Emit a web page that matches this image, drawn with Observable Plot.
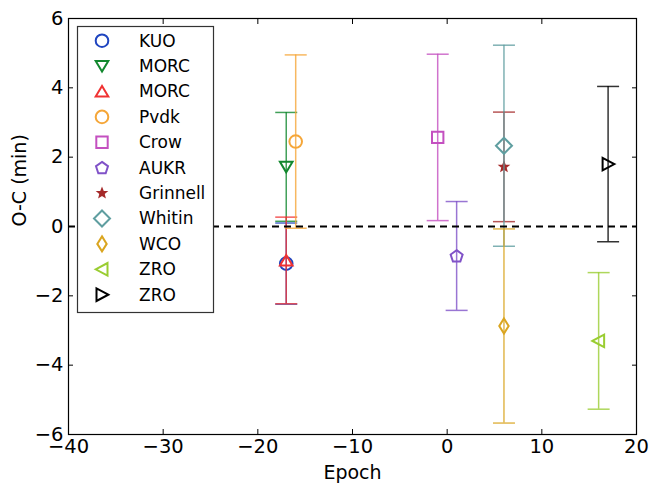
<!DOCTYPE html>
<html>
<head>
<meta charset="utf-8">
<script src="https://cdn.jsdelivr.net/npm/d3@7"></script>
<script src="https://cdn.jsdelivr.net/npm/@observablehq/plot@0.6"></script>
<style>
  html, body { margin: 0; padding: 0; background: white; }
</style>
</head>
<body>
<div id="chart"></div>
<script>
// ---- data ----
const names  = ["KUO", "MORC", "MORC", "Pvdk", "Crow", "AUKR", "Grinnell", "Whitin", "WCO", "ZRO", "ZRO"];
const epochs = [-17, -17, -17, -16, -1, 1, 6, 6, 6, 16, 17];
const values = [-1.07, 1.72, -0.98, 2.45, 2.57, -0.85, 1.72, 2.33, -2.87, -3.30, 1.80];
const errors = [1.17, 1.57, 1.25, 2.50, 2.40, 1.57, 1.58, 2.90, 2.80, 1.97, 2.24];
const colors = ["#1f45c0", "#12882e", "#f03232", "#f5a638", "#c450c0", "#8052c8", "#a52a2a", "#5f9ea0", "#daa520", "#9acd32", "#000000"];
const markers = ["circle", "tridown", "triup", "circle", "square", "pentagon", "star", "diamond", "thindiamond", "trileft", "triright"];
const xTicks = [-40, -30, -20, -10, 0, 10, 20];
const yTicks = [-6, -4, -2, 0, 2, 4, 6];

// ---- symbols ----
function poly(pts) {
  return { draw(ctx) { ctx.moveTo(pts[0][0], pts[0][1]); for (let i = 1; i < pts.length; i++) ctx.lineTo(pts[i][0], pts[i][1]); ctx.closePath(); } };
}
function circ(r) { return { draw(ctx) { ctx.moveTo(r, 0); ctx.arc(0, 0, r, 0, 2 * Math.PI); } }; }
function starPts(ro, ri) {
  const p = [];
  for (let k = 0; k < 10; k++) { const a = -Math.PI / 2 + k * Math.PI / 5; const r = k % 2 ? ri : ro; p.push([r * Math.cos(a), r * Math.sin(a)]); }
  return p;
}
function pentPts(r) {
  const p = [];
  for (let k = 0; k < 5; k++) { const a = -Math.PI / 2 + k * 2 * Math.PI / 5; p.push([r * Math.cos(a), r * Math.sin(a) + 0.5]); }
  return p;
}
const symbolTypes = {
  circle: circ(6.3),
  tridown: poly([[0, 5.5], [-6.3, -5], [6.3, -5]]),
  triup: poly([[0, -5.5], [-6.3, 5], [6.3, 5]]),
  trileft: poly([[-6.3, 0], [5.5, -6.3], [5.5, 6.3]]),
  triright: poly([[6.3, 0], [-5.5, -6.3], [-5.5, 6.3]]),
  square: poly([[-5.7, -5.7], [5.7, -5.7], [5.7, 5.7], [-5.7, 5.7]]),
  pentagon: poly(pentPts(6.3)),
  star: poly(starPts(4.6, 2.0)),
  diamond: poly([[0, -8], [8, 0], [0, 8], [-8, 0]]),
  thindiamond: poly([[0, -7.5], [4.7, 0], [0, 7.5], [-4.7, 0]])
};
const capSymbol = { draw(ctx) { ctx.moveTo(-11, 0); ctx.lineTo(11, 0); } };

const minus = d => d < 0 ? "\u2212" + (-d) : String(d);

// ---- marks ----
const marks = [];
names.forEach((n, i) => {
  const d = [{ x: epochs[i], y: values[i], lo: values[i] - errors[i], hi: values[i] + errors[i] }];
  marks.push(Plot.ruleX(d, { x: "x", y1: "lo", y2: "hi", stroke: colors[i], strokeWidth: 1.5, strokeOpacity: 0.8 }));
  marks.push(Plot.dot(d, { x: "x", y: "lo", symbol: capSymbol, stroke: colors[i], strokeWidth: 1.5, strokeOpacity: 0.8 }));
  marks.push(Plot.dot(d, { x: "x", y: "hi", symbol: capSymbol, stroke: colors[i], strokeWidth: 1.5, strokeOpacity: 0.8 }));
  const filled = markers[i] === "star";
  marks.push(Plot.dot(d, { x: "x", y: "y", symbol: symbolTypes[markers[i]], stroke: colors[i], fill: filled ? colors[i] : "none", strokeWidth: filled ? 1.5 : 2 }));
});

const chart = Plot.plot({
  width: 652,
  height: 487,
  marginLeft: 68,
  marginRight: 16,
  marginTop: 18,
  marginBottom: 53,
  style: { fontFamily: "DejaVu Sans, sans-serif", fontSize: "19.5px", background: "white", color: "black", overflow: "visible" },
  x: { domain: [-40, 20] },
  y: { domain: [-6, 6] },
  marks: [
    ...marks,
    Plot.ruleY([0], { stroke: "black", strokeWidth: 2, strokeDasharray: "7,5" }),
    Plot.frame({ stroke: "black", strokeWidth: 1.2 }),
    Plot.axisX({ ticks: xTicks, tickSize: -5, tickPadding: 10, tickFormat: minus, label: null, fontSize: 19.5 }),
    Plot.axisX({ anchor: "top", ticks: xTicks, tickSize: -5, tickFormat: () => "", label: null }),
    Plot.axisY({ ticks: yTicks, tickSize: -5, tickPadding: 10, tickFormat: minus, label: null, fontSize: 19.5 }),
    Plot.axisY({ anchor: "right", ticks: yTicks, tickSize: -5, tickFormat: () => "", label: null }),
    Plot.text(["Epoch"], { frameAnchor: "bottom", dy: 44, fontSize: 19 }),
    Plot.text(["O-C (min)"], { frameAnchor: "left", dx: -49, rotate: -90, fontSize: 19 })
  ]
});

// ---- legend ----
const svg = d3.select(chart);
const lg = svg.append("g").attr("font-family", "DejaVu Sans, sans-serif").attr("font-size", 17).attr("text-anchor", "start");
lg.append("rect").attr("x", 77.5).attr("y", 26.5).attr("width", 136).attr("height", 286)
  .attr("fill", "white").attr("stroke", "#333").attr("stroke-width", 1.2);
names.forEach((n, i) => {
  const cy = 40.7 + 25.4 * i;
  const filled = markers[i] === "star";
  lg.append("path").attr("d", d3.symbol(symbolTypes[markers[i]])())
    .attr("transform", `translate(102,${cy})`)
    .attr("fill", filled ? colors[i] : "none")
    .attr("stroke", colors[i]).attr("stroke-width", filled ? 1.5 : 2);
  lg.append("text").attr("x", 139).attr("y", cy).attr("dy", "0.35em").attr("text-anchor", "start").text(n);
});

document.getElementById("chart").appendChild(chart);
</script>
</body>
</html>
